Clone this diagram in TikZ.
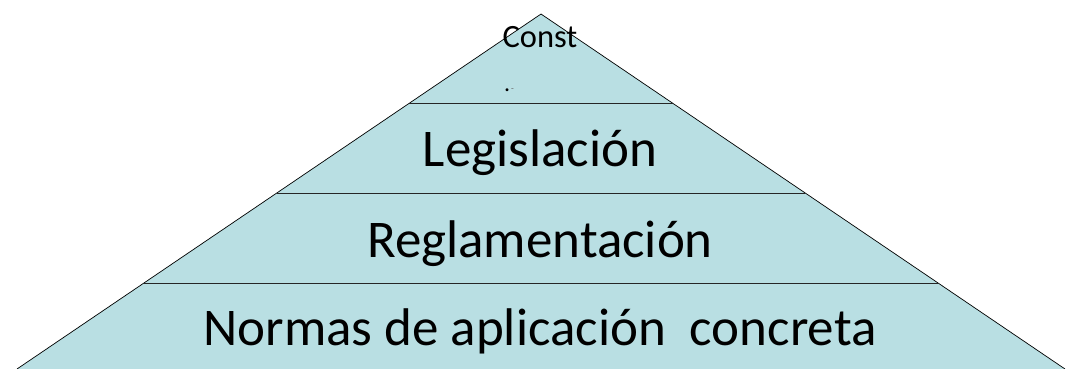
\documentclass[tikz,border=0pt]{standalone}
\usepackage{fontspec}
\setmainfont{Carlito}
\definecolor{piramide}{HTML}{B9DFE3}

\begin{document}
\begin{tikzpicture}[x=1pt, y=-1pt,
		nivel/.style={anchor=base, inner sep=0pt, font=\fontsize{53}{53}\selectfont}]
		\useasboundingbox (0, 0) rectangle (1070, 369);

		\path[fill=piramide, draw=black, line width=.7pt] (17, 369) -- (541, 14) -- (1065, 369);

		\draw[line width=1pt, black!85] (409, 103) -- (673, 103);
		\draw[line width=1pt, black!85] (277, 193) -- (805, 193);
		\draw[line width=1pt, black!85] (144, 283) -- (938, 283);

		\node[anchor=base, inner sep=0pt, font=\fontsize{32.5}{32.5}\selectfont] (const) at (540, 48) {Const};
		\node[anchor=base west, inner sep=0pt, font=\fontsize{24}{24}\selectfont] (punto) at (504, 92) {.};
		\node[anchor=base west, inner sep=0pt, font=\fontsize{9}{9}\selectfont, black!60] (guion) at (511, 92) {-};

		\node[nivel] (legis) at (540, 166) {Legislación};
		\node[nivel] (regla) at (540, 257) {Reglamentación};
		\node[nivel] (normas) at (540, 345) {Normas de aplicación\ \ concreta};
	\end{tikzpicture}
\end{document}
